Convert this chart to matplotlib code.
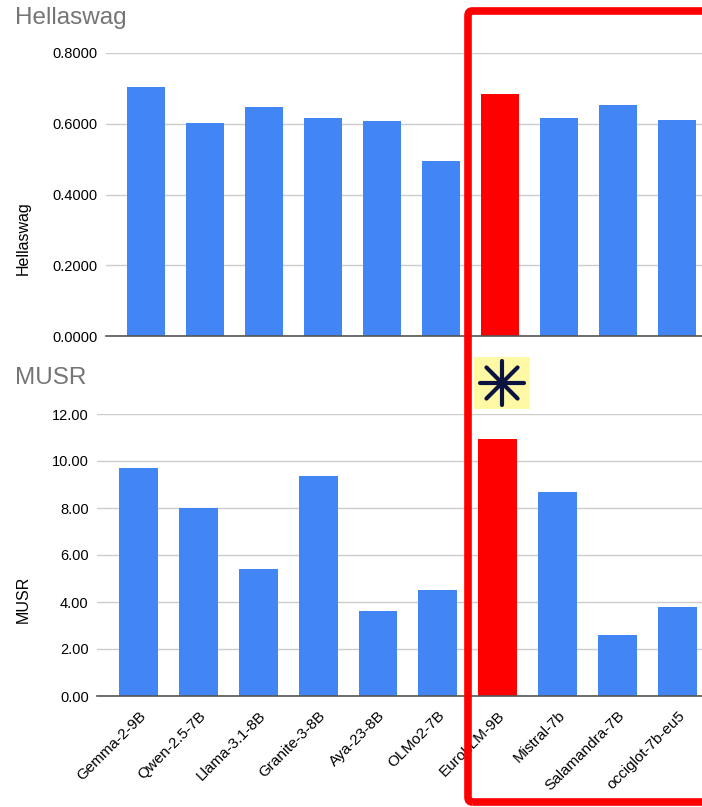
import matplotlib
matplotlib.use("Agg")
import matplotlib.pyplot as plt
from matplotlib.patches import FancyBboxPatch, Rectangle
from matplotlib.lines import Line2D
import numpy as np

models = ["Gemma-2-9B", "Qwen-2.5-7B", "Llama-3.1-8B", "Granite-3-8B", "Aya-23-8B",
          "OLMo2-7B", "EuroLLM-9B", "Mistral-7b", "Salamandra-7B", "occiglot-7b-eu5"]
hellaswag = [0.704, 0.602, 0.647, 0.616, 0.608, 0.495, 0.684, 0.616, 0.653, 0.611]
musr = [9.70, 8.00, 5.40, 9.35, 3.60, 4.50, 10.95, 8.70, 2.60, 3.80]
highlight = "EuroLLM-9B"
hs_ticks = [0.0, 0.2, 0.4, 0.6, 0.8]
musr_ticks = [0, 2, 4, 6, 8, 10, 12]

BLUE = "#4285F4"
RED = "#FF0000"
GRID = "#CCCCCC"
W, H = 702, 807

plt.rcParams['font.family'] = ['Liberation Sans', 'DejaVu Sans']
fig = plt.figure(figsize=(W / 100, H / 100), dpi=100)

colors = [RED if m == highlight else BLUE for m in models]
x = np.arange(len(models))


def style(ax, ticks, fmt):
    ax.set_yticks(ticks)
    ax.set_yticklabels([fmt.format(t) for t in ticks], fontsize=10.5)
    ax.tick_params(axis='y', length=0, pad=6)
    ax.tick_params(axis='x', length=0)
    for s in ["top", "right", "left"]:
        ax.spines[s].set_visible(False)
    ax.spines["bottom"].set_color("#555555")
    ax.spines["bottom"].set_linewidth(1.2)
    ax.yaxis.grid(True, color=GRID, linewidth=1)
    ax.set_axisbelow(True)


# Top: Hellaswag
ax1 = fig.add_axes([106 / W, (H - 336) / H, (W - 106) / W, 283 / H])
ax1.bar(x, hellaswag, width=0.645, color=colors, zorder=2)
ax1.set_xlim(-0.678, 9.42)
ax1.set_ylim(0, 0.8)
style(ax1, hs_ticks, "{:.4f}")
ax1.set_xticks([])
ax1.spines["bottom"].set_zorder(3)

# Bottom: MUSR
ax2 = fig.add_axes([97 / W, (H - 696) / H, (W - 97) / W, 282 / H])
ax2.bar(x, musr, width=0.65, color=colors, zorder=2)
ax2.set_xlim(-0.693, 9.41)
ax2.set_ylim(0, 12)
style(ax2, musr_ticks, "{:.2f}")
ax2.set_xticks(x)
ax2.set_xticklabels(models, rotation=45, ha='right', rotation_mode='anchor', fontsize=11)
ax2.tick_params(axis='x', pad=9)

# Titles & axis labels
fig.text(15 / W, 1 - 18 / H, "Hellaswag", fontsize=17.5, color="#757575", va='center', ha='left')
fig.text(15 / W, 1 - 378 / H, "MUSR", fontsize=17.5, color="#757575", va='center', ha='left')
fig.text(23 / W, 1 - 238 / H, "Hellaswag", fontsize=11.5, rotation=90, va='center', ha='center')
fig.text(23 / W, 1 - 599 / H, "MUSR", fontsize=11.5, rotation=90, va='center', ha='center')

# Red highlight frame
frame = FancyBboxPatch((468 / W, (H - 802) / H), (W + 20 - 468) / W, (802 - 11) / H,
                       boxstyle="round,pad=0,rounding_size=0.006",
                       transform=fig.transFigure, fill=False, edgecolor=RED,
                       linewidth=5.5, zorder=10)
fig.patches.append(frame)

# Yellow asterisk badge
fig.patches.append(Rectangle((474 / W, (H - 409) / H), 56 / W, 52 / H,
                             transform=fig.transFigure, facecolor="#FFF9A6",
                             edgecolor="none", zorder=9))
cx, cy, r = 502, 383, 22
for ang in np.arange(0, 180, 45):
    a = np.deg2rad(ang)
    dx, dy = r * np.cos(a), r * np.sin(a)
    fig.lines.append(Line2D([(cx - dx) / W, (cx + dx) / W],
                            [(H - cy + dy) / H, (H - cy - dy) / H],
                            transform=fig.transFigure, color="#0B1440",
                            linewidth=3.0, solid_capstyle='round', zorder=11))

fig.savefig("out.png", dpi=100)
